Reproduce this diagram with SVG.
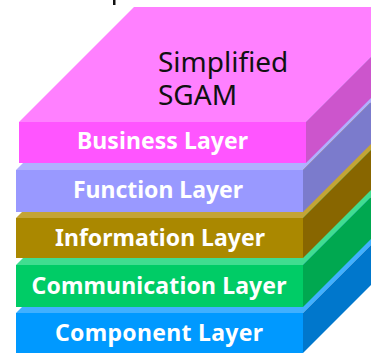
<svg xmlns="http://www.w3.org/2000/svg" width="371" height="353" viewBox="0 0 371 353">
<style>
.lbl{font-family:"Noto Sans","Open Sans","DejaVu Sans",sans-serif;font-weight:bold;font-size:23px;fill:#ffffff;text-anchor:middle}
.title{font-family:"Noto Sans","Open Sans","DejaVu Sans",sans-serif;font-size:28px;fill:#111111}
</style>
<rect x="0" y="0" width="371" height="353" fill="#ffffff"/>
<rect x="113" y="0" width="2.5" height="5" fill="#111111"/>
<g id="component-layer">
<polygon points="16,313 303,313 418,198 131,198" fill="#40b0ff"/>
<polygon points="303,313 418,198 418,238 303,353" fill="#0077cc"/>
<rect x="16" y="313" width="287" height="40" fill="#0099ff"/>
<text class="lbl" x="159" y="341" textLength="208" lengthAdjust="spacing">Component Layer</text>
</g>
<g id="communication-layer">
<polygon points="16,265 303,265 418,150 131,150" fill="#40dd90"/>
<polygon points="303,265 418,150 418,192 303,307" fill="#00a850"/>
<rect x="16" y="265" width="287" height="42" fill="#00cc66"/>
<text class="lbl" x="159" y="294" textLength="255" lengthAdjust="spacing">Communication Layer</text>
</g>
<g id="information-layer">
<polygon points="16,218 303,218 418,103 131,103" fill="#c4a436"/>
<polygon points="303,218 418,103 418,143 303,258" fill="#886600"/>
<rect x="16" y="218" width="287" height="40" fill="#aa8800"/>
<text class="lbl" x="160" y="246" textLength="210" lengthAdjust="spacing">Information Layer</text>
</g>
<g id="function-layer">
<polygon points="16,170 303,170 418,55 131,55" fill="#b0b0ff"/>
<polygon points="303,170 418,55 418,97 303,212" fill="#7b7bcc"/>
<rect x="16" y="170" width="287" height="42" fill="#9999ff"/>
<text class="lbl" x="158" y="198" textLength="170" lengthAdjust="spacing">Function Layer</text>
</g>
<g id="business-layer">
<polygon points="19,122 306,122 421,7 134,7" fill="#ff80ff"/>
<polygon points="306,122 421,7 421,48 306,163" fill="#cc55cc"/>
<rect x="19" y="122" width="287" height="41" fill="#ff55ff"/>
<text class="lbl" x="162.5" y="149" textLength="171" lengthAdjust="spacing">Business Layer</text>
</g>
<g id="title">
<text class="title" x="158" y="72">Simplified<tspan x="158" y="105">SGAM</tspan></text>
</g>
<g id="connectors"/>
</svg>
